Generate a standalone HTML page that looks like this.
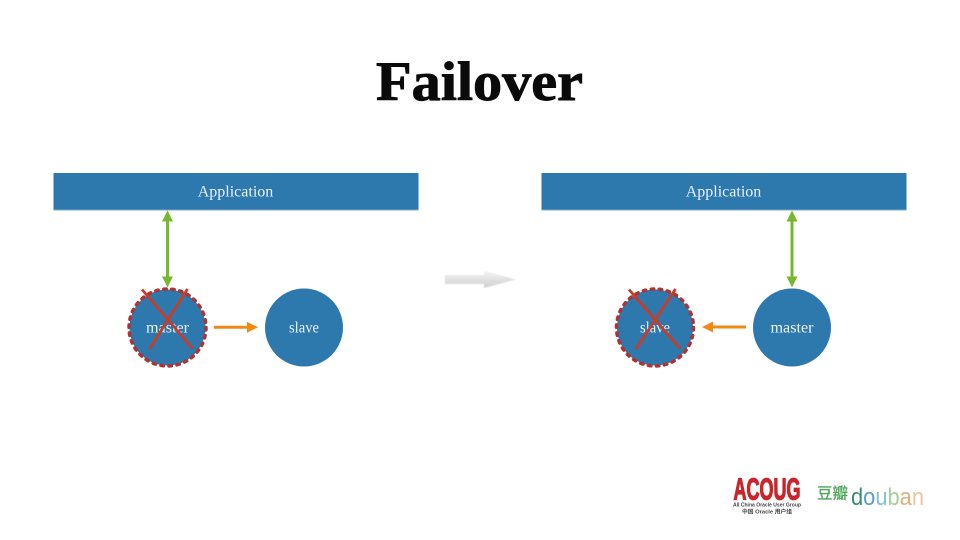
<!DOCTYPE html>
<html>
<head>
<meta charset="utf-8">
<style>
html,body{margin:0;padding:0;background:#fff}
svg{display:block}
text{font-family:"Liberation Serif",serif}
.l{fill:#eaf2f8;font-size:16px;text-anchor:middle}
</style>
</head>
<body>
<svg width="960" height="540" viewBox="0 0 960 540" xmlns="http://www.w3.org/2000/svg">
<defs>
<linearGradient id="g" x1="0" y1="0" x2="0" y2="1"><stop offset="0" stop-color="#f2f2f2"/><stop offset="1" stop-color="#d0d0d0"/></linearGradient>
<filter id="b" x="-10%" y="-10%" width="120%" height="120%"><feGaussianBlur stdDeviation="0.5"/></filter>
<filter id="s" x="-10%" y="-10%" width="120%" height="120%"><feGaussianBlur stdDeviation="0.35"/></filter>
</defs>
<rect width="960" height="540" fill="#fff"/>
<text x="376" y="100" font-size="55" font-weight="bold" fill="#0a0a0a" stroke="#0a0a0a" stroke-width="0.900" textLength="207" lengthAdjust="spacingAndGlyphs">Failover</text>

<!-- Left -->
<rect x="53.500" y="173" width="365" height="37" fill="#2d78ad"/>
<rect x="53.500" y="209.500" width="365" height="1" fill="#7fa9c6"/>
<text class="l" x="235.500" y="196.500">Application</text>
<line x1="167.500" y1="218" x2="167.500" y2="280" stroke="#76b82f" stroke-width="3"/>
<path d="M167.500 210.500L162 221.500H173ZM167.500 287.500L162 276.500H173Z" fill="#76b82f"/>
<circle cx="167.500" cy="327.500" r="38" fill="#2d78ad"/>
<circle cx="167.500" cy="327.500" r="38.500" fill="none" stroke="#ae3433" stroke-width="3.500" stroke-dasharray="2.500 5.560" stroke-linecap="round"/>
<text class="l" x="167.500" y="332.500" textLength="43" lengthAdjust="spacingAndGlyphs">master</text>
<g stroke="#c83c28" stroke-width="2.800"><line x1="142" y1="289.500" x2="192.500" y2="348.500"/><line x1="187.500" y1="289" x2="149.500" y2="349"/></g>
<line x1="214" y1="327.300" x2="250" y2="327.300" stroke="#ef8a17" stroke-width="3"/>
<path d="M258 327.300L247 321.800V332.800Z" fill="#ef8a17"/>
<circle cx="304" cy="327.500" r="39" fill="#2d78ad"/>
<text class="l" x="304" y="332.500" textLength="30" lengthAdjust="spacingAndGlyphs">slave</text>

<!-- Middle arrow -->
<path d="M445 275H484V271L516 279.500L484 288V284H445Z" fill="url(#g)" filter="url(#b)"/>

<!-- Right -->
<rect x="541.500" y="173" width="365" height="37" fill="#2d78ad"/>
<rect x="541.500" y="209.500" width="365" height="1" fill="#7fa9c6"/>
<text class="l" x="723.500" y="196.500">Application</text>
<line x1="792" y1="218" x2="792" y2="280" stroke="#76b82f" stroke-width="3"/>
<path d="M792 210.500L786.500 221.500H797.500ZM792 287.500L786.500 276.500H797.500Z" fill="#76b82f"/>
<circle cx="655" cy="327.500" r="38" fill="#2d78ad"/>
<circle cx="655" cy="327.500" r="38.500" fill="none" stroke="#ae3433" stroke-width="3.500" stroke-dasharray="2.500 5.560" stroke-linecap="round"/>
<text class="l" x="655" y="332.500" textLength="30" lengthAdjust="spacingAndGlyphs">slave</text>
<g stroke="#c83c28" stroke-width="2.800"><line x1="629" y1="289.500" x2="680" y2="348.500"/><line x1="675.500" y1="289" x2="636" y2="349"/></g>
<line x1="746" y1="327" x2="710" y2="327" stroke="#ef8a17" stroke-width="3"/>
<path d="M702 327L713 321.500V332.500Z" fill="#ef8a17"/>
<circle cx="792" cy="327.500" r="39" fill="#2d78ad"/>
<text class="l" x="792" y="332.500" textLength="43" lengthAdjust="spacingAndGlyphs">master</text>

<!-- Logos -->
<g filter="url(#s)">
<text x="733.500" y="499.500" font-size="31" font-weight="bold" fill="#c9252c" stroke="#c9252c" stroke-width="1.300" textLength="67" lengthAdjust="spacingAndGlyphs" style="font-family:'Liberation Sans',sans-serif">ACOUG</text>
<text x="733" y="506.500" font-size="5.500" font-weight="bold" fill="#444" textLength="68" lengthAdjust="spacingAndGlyphs" style="font-family:'Liberation Sans',sans-serif">All China Oracle User Group</text>
<text x="742" y="513.500" font-size="5.500" font-weight="bold" fill="#444" textLength="50" lengthAdjust="spacingAndGlyphs" style="font-family:'Liberation Sans','Noto Sans CJK SC',sans-serif">中国 Oracle 用户组</text>
<text x="817" y="498.500" font-size="15.500" fill="#4fa85a" stroke="#4fa85a" stroke-width="0.300" textLength="31" style="font-family:'Liberation Sans','Noto Sans CJK SC',sans-serif">豆瓣</text>
<text x="851" y="505" font-size="24" textLength="73" lengthAdjust="spacingAndGlyphs" style="font-family:'Liberation Sans',sans-serif"><tspan fill="#3f8c72">d</tspan><tspan fill="#5b9fc0">o</tspan><tspan fill="#82bfd8">u</tspan><tspan fill="#a5cf9a">b</tspan><tspan fill="#e0b080">a</tspan><tspan fill="#efc4a4">n</tspan></text>
</g>
</svg>
</body>
</html>
